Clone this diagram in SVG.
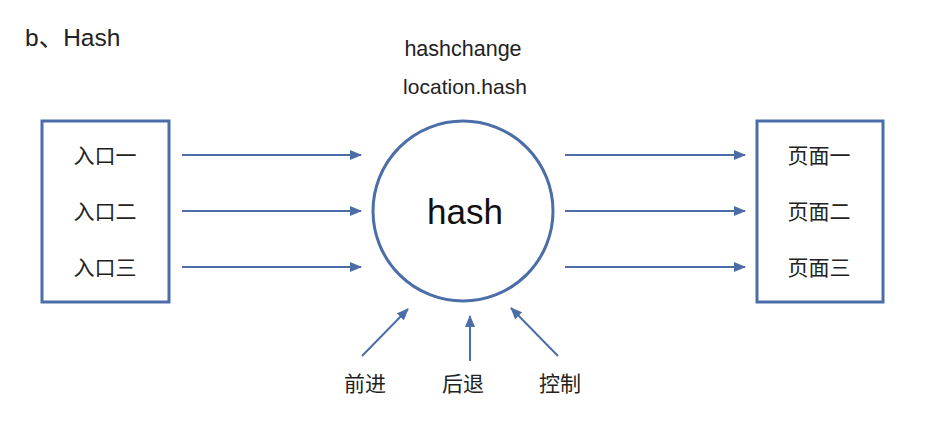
<svg xmlns="http://www.w3.org/2000/svg" width="928" height="424" viewBox="0 0 928 424">
<style>
.box{fill:#fff;stroke:#4b6ea8;stroke-width:3}
.ln{stroke:#4b6ea8;stroke-width:2;fill:none;marker-end:url(#ah)}
.t{font-family:"Liberation Sans","Noto Sans CJK SC",sans-serif;fill:#222;font-size:21px;text-anchor:middle}
</style>
<defs>
<marker id="ah" markerWidth="12" markerHeight="10" refX="11" refY="5" orient="auto" markerUnits="userSpaceOnUse">
<path d="M0,0 L12,5 L0,10 Z" fill="#4b6ea8"/>
</marker>
</defs>
<rect width="928" height="424" fill="#fff"/>
<text x="25" y="46" style="font-family:'Liberation Sans','Noto Sans CJK SC',sans-serif;font-size:24.5px;fill:#222">b、Hash</text>
<text class="t" x="463" y="56" style="font-size:21.5px">hashchange</text>
<text class="t" x="465" y="94">location.hash</text>
<g id="entries">
<rect class="box" x="42" y="121" width="127" height="181"/>
<text class="t" x="105" y="163">入口一</text>
<text class="t" x="105" y="219">入口二</text>
<text class="t" x="105" y="275">入口三</text>
</g>
<g id="hash">
<circle cx="463" cy="211" r="90" fill="#fff" stroke="#4b6ea8" stroke-width="3"/>
<text x="465" y="224" style="font-family:'Liberation Sans',sans-serif;font-size:35px;fill:#111;text-anchor:middle">hash</text>
</g>
<g id="pages">
<rect class="box" x="757" y="121" width="126" height="181"/>
<text class="t" x="819" y="163">页面一</text>
<text class="t" x="819" y="219">页面二</text>
<text class="t" x="819" y="275">页面三</text>
</g>
<g id="forward"><text class="t" x="365" y="391">前进</text></g>
<g id="back"><text class="t" x="463" y="391">后退</text></g>
<g id="control"><text class="t" x="560" y="391">控制</text></g>
<g id="connectors">
<line class="ln" x1="182" y1="155" x2="361" y2="155"/>
<line class="ln" x1="182" y1="211" x2="361" y2="211"/>
<line class="ln" x1="182" y1="267" x2="361" y2="267"/>
<line class="ln" x1="565" y1="155" x2="745" y2="155"/>
<line class="ln" x1="565" y1="211" x2="745" y2="211"/>
<line class="ln" x1="565" y1="267" x2="745" y2="267"/>
<line class="ln" x1="362" y1="356" x2="408" y2="309"/>
<line class="ln" x1="470" y1="361" x2="470" y2="316"/>
<line class="ln" x1="558" y1="356" x2="511" y2="308"/>
</g>
</svg>
